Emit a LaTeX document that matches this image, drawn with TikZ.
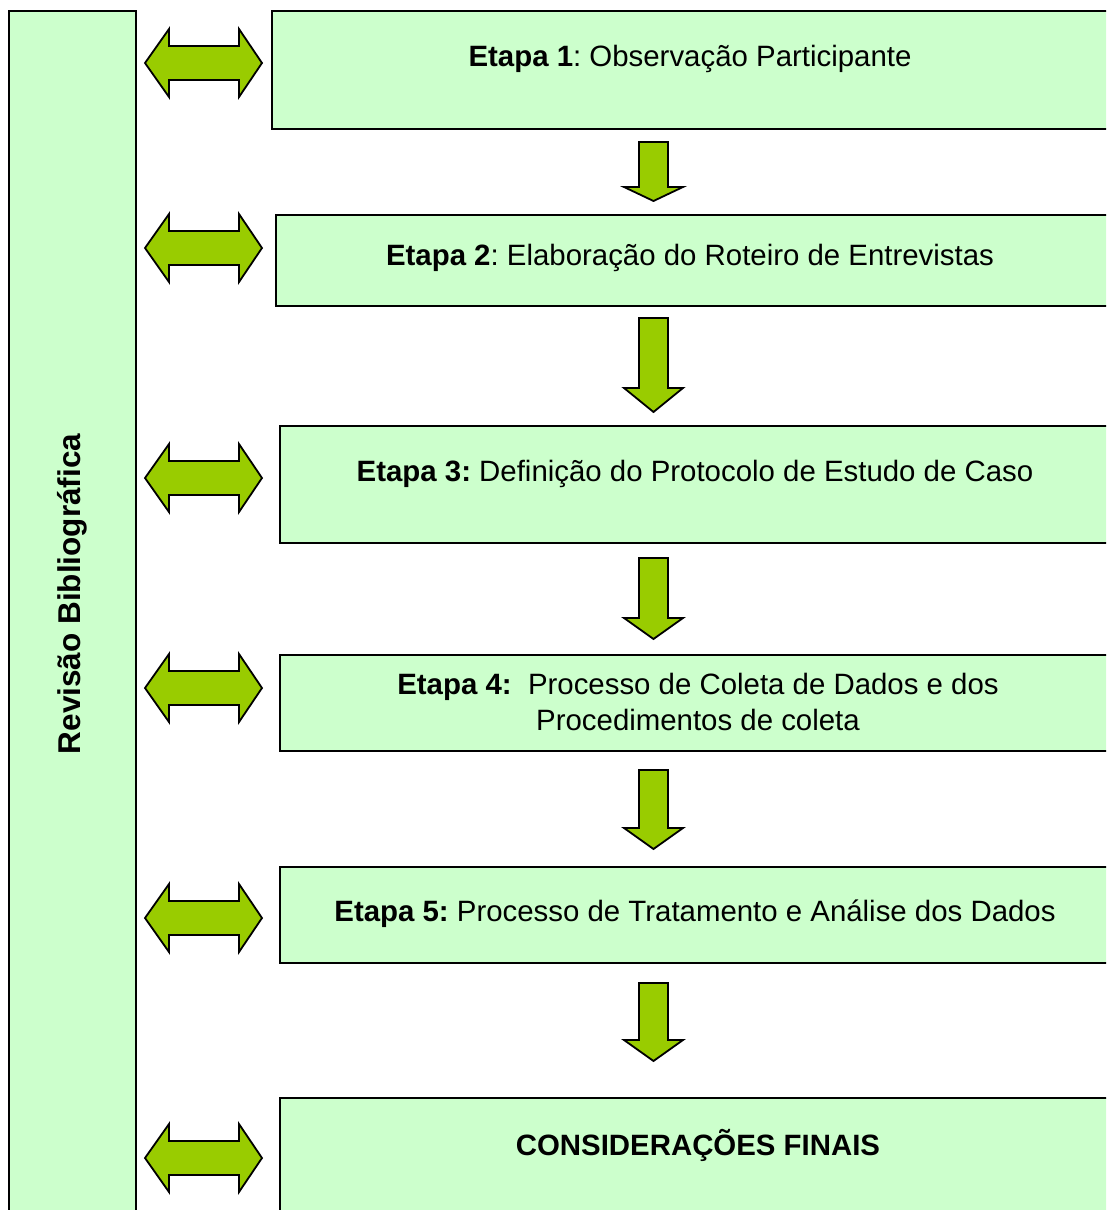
\documentclass[tikz,border=0pt]{standalone}
\usepackage{fontspec}
\setmainfont{Liberation Sans}
\frenchspacing
\definecolor{boxgreen}{HTML}{CCFFCC}
\definecolor{arrowgreen}{HTML}{99CC00}
\tikzset{
  stagebox/.style={draw=black, line width=1.5pt, fill=boxgreen, anchor=north west, inner sep=0pt},
  stagetext/.style={font=\fontsize{29.4}{36}\selectfont, align=center, inner sep=0pt},
  blockarrow/.style={draw=black, line width=1.8pt, fill=arrowgreen, line join=miter},
}
\newcommand{\mydblarrow}[1]{%
  \draw[blockarrow] (145,#1) -- (169,#1-34) -- (169,#1-17) -- (239,#1-17) -- (239,#1-34)
    -- (262,#1) -- (239,#1+34) -- (239,#1+17) -- (169,#1+17) -- (169,#1+34) -- cycle;}
\newcommand{\mydownarrow}[3]{%
  \draw[blockarrow] (639,#1) -- (668,#1) -- (668,#2) -- (683,#2) -- (653.5,#3)
    -- (624,#2) -- (639,#2) -- cycle;}
\begin{document}
\begin{tikzpicture}[x=1pt, y=-1pt]
\clip (0,0) rectangle (1106,1210);
\fill[white] (0,0) rectangle (1106,1210);
% sidebar
\node[stagebox, minimum width=127pt, minimum height=1230pt] (side) at (8,10) {};
\node[stagetext, font=\fontsize{31.5}{36}\selectfont\bfseries, rotate=90] (sidetext) at (72,594) {Revisão Bibliográfica};
% boxes
\node[stagebox, minimum width=860pt, minimum height=118pt] (b1) at (271,10) {};
\node[stagebox, minimum width=860pt, minimum height=91pt] (b2) at (275,214) {};
\node[stagebox, minimum width=860pt, minimum height=117pt] (b3) at (279,425) {};
\node[stagebox, minimum width=860pt, minimum height=96pt] (b4) at (279,654) {};
\node[stagebox, minimum width=860pt, minimum height=96pt] (b5) at (279,866) {};
\node[stagebox, minimum width=860pt, minimum height=140pt] (b6) at (279,1097) {};
% texts
\node[stagetext] (t1) at (690,59) {\textbf{Etapa 1}: Observação Participante};
\node[stagetext] (t2) at (690,258) {\textbf{Etapa 2}: Elaboração do Roteiro de Entrevistas};
\node[stagetext] (t3) at (695,474) {\textbf{Etapa 3:} Definição do Protocolo de Estudo de Caso};
\node[stagetext] (t4) at (698,702) {\textbf{Etapa 4:}\ \ Processo de Coleta de Dados e dos\\Procedimentos de coleta};
\node[stagetext] (t5) at (695,914) {\textbf{Etapa 5:} Processo de Tratamento e Análise dos Dados};
\node[stagetext] (t6) at (698,1145) {\textbf{CONSIDERAÇÕES FINAIS}};
% double arrows
\mydblarrow{63}
\mydblarrow{248}
\mydblarrow{478}
\mydblarrow{688}
\mydblarrow{918}
\mydblarrow{1158}
% down arrows
\mydownarrow{142}{187}{201}
\mydownarrow{318}{388}{412}
\mydownarrow{558}{618}{639}
\mydownarrow{770}{828}{849}
\mydownarrow{983}{1040}{1061}
\end{tikzpicture}
\end{document}
